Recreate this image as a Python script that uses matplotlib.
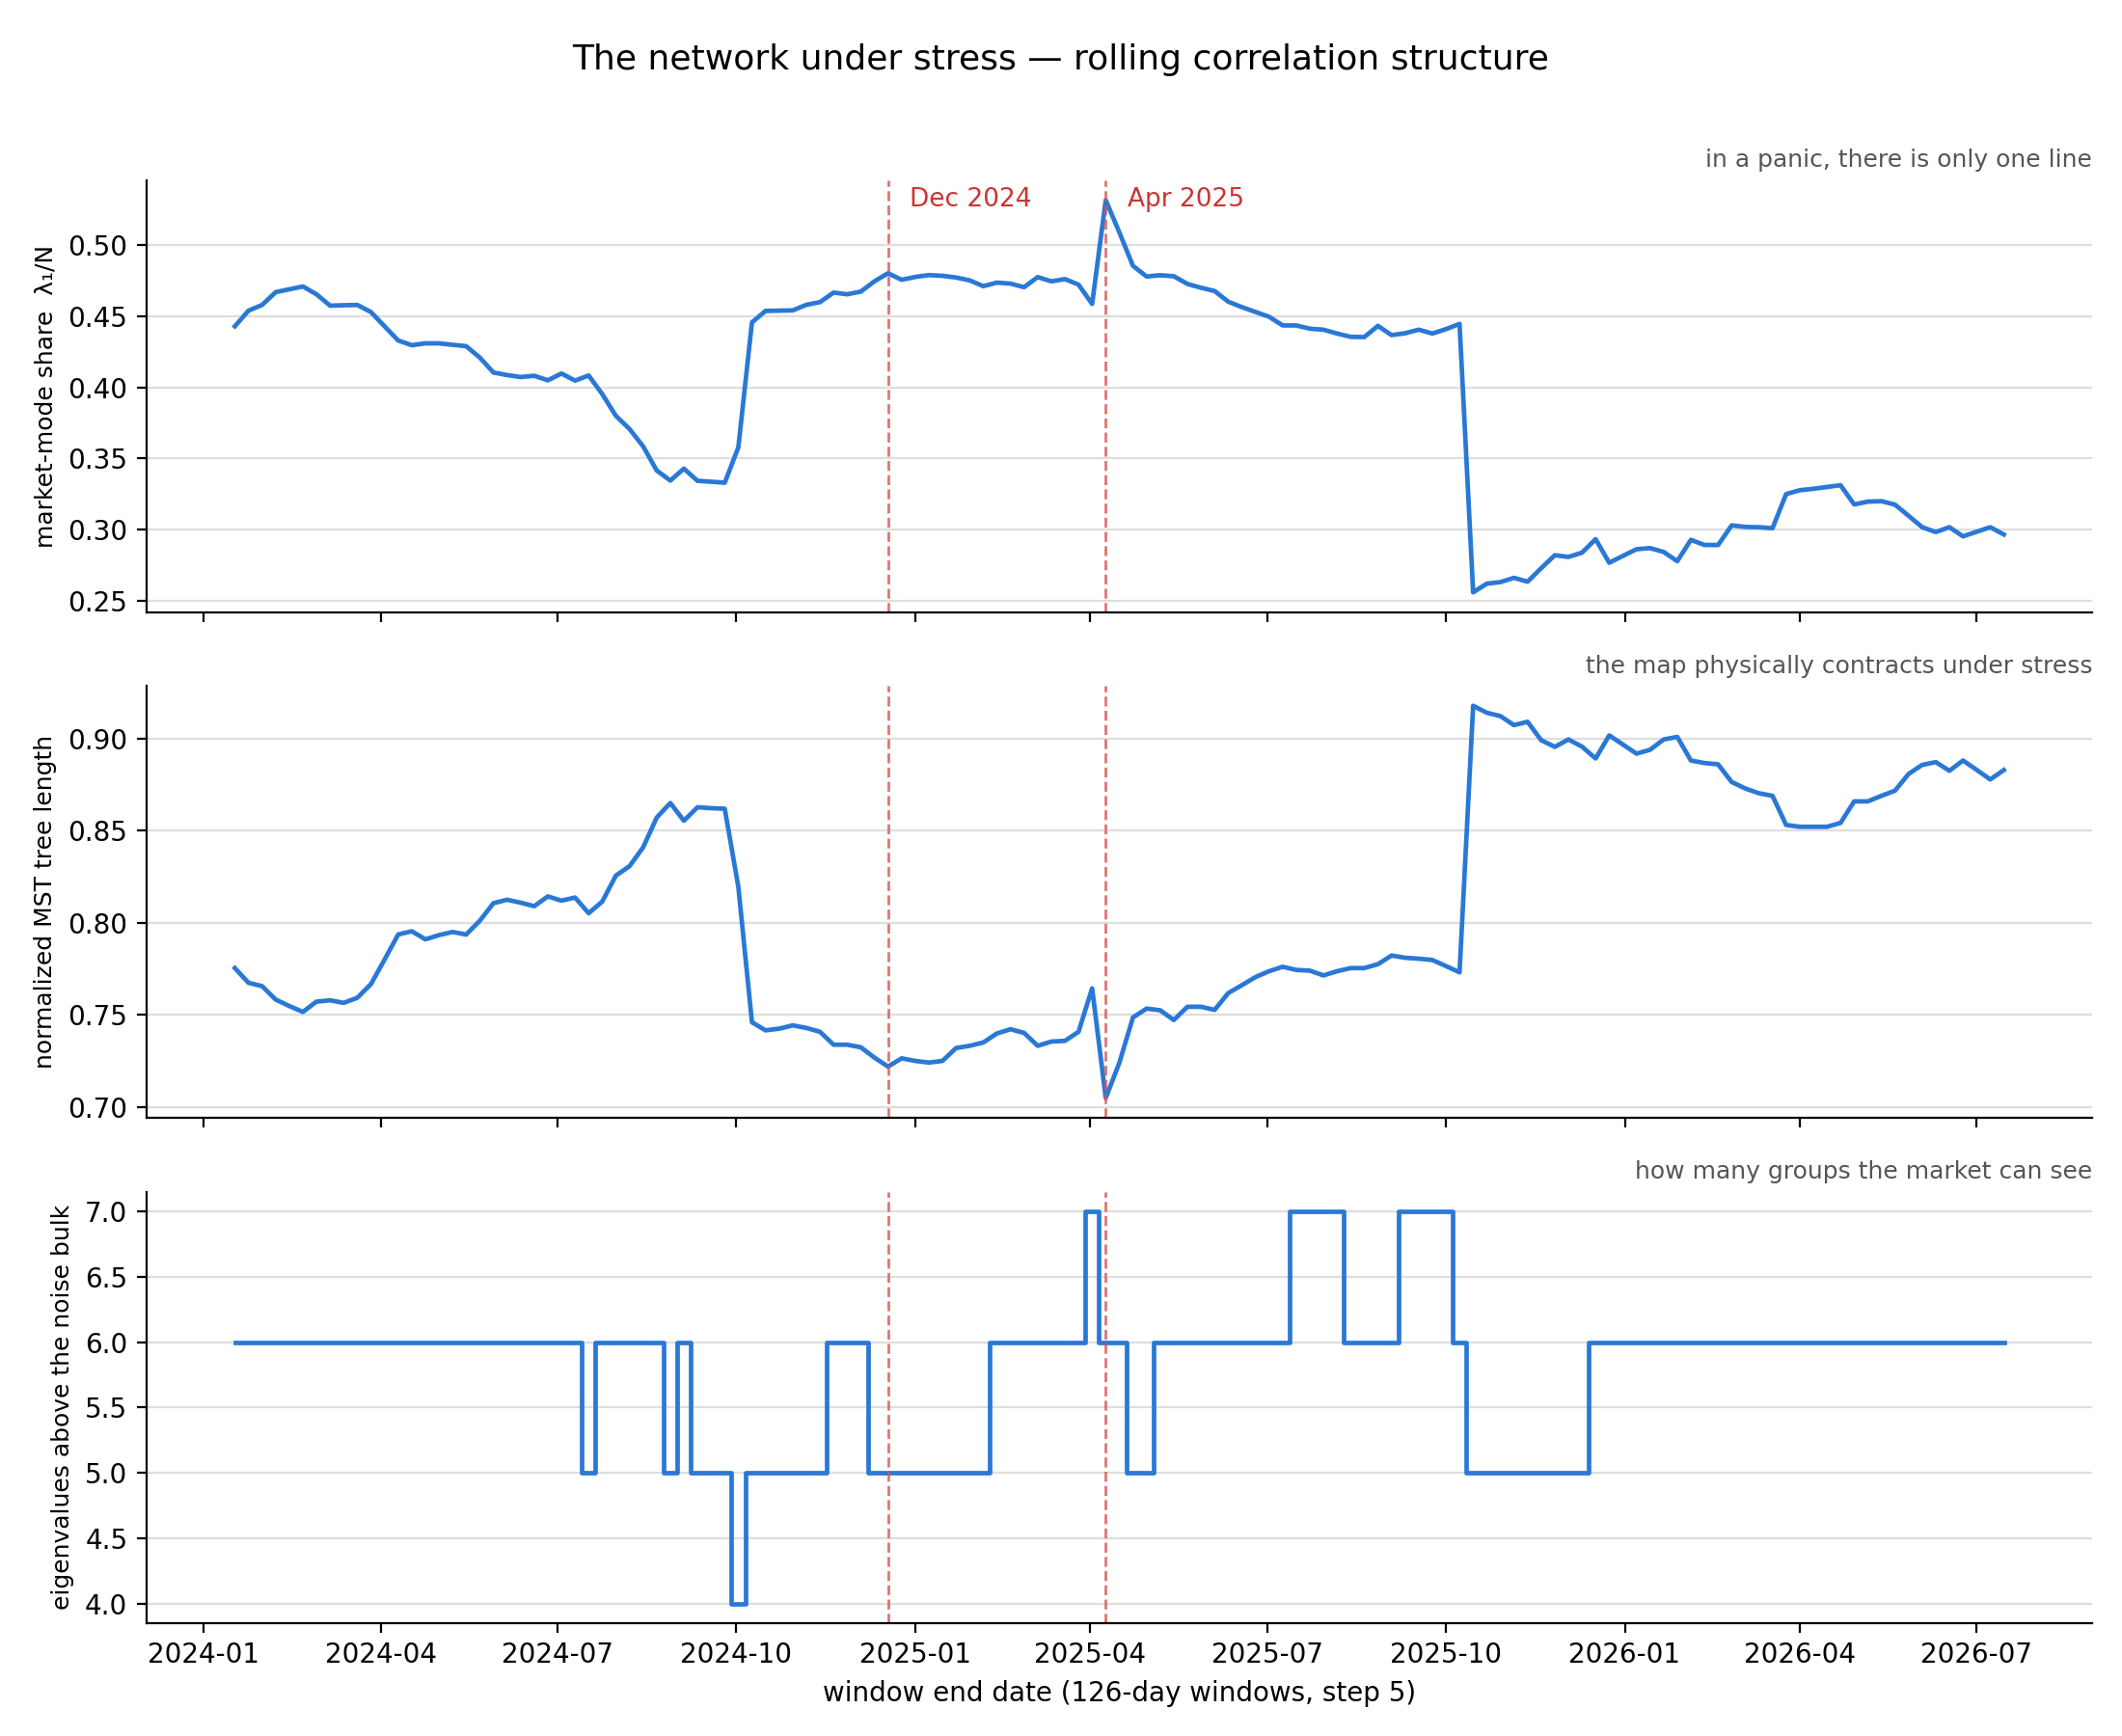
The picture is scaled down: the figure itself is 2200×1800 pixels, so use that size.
import matplotlib
matplotlib.use("Agg")
import matplotlib.pyplot as plt
import matplotlib.dates as mdates
import pandas as pd

# ---- data ----
start_date = "2024-01-17"
n_windows = 131
event_dates = ["2024-12-18", "2025-04-09"]
event_labels = ["Dec 2024", "Apr 2025"]

lam_share = [0.443, 0.454, 0.458, 0.467, 0.469, 0.471, 0.4655, 0.4575, 0.4578, 0.458,
             0.453, 0.443, 0.433, 0.4297, 0.431, 0.431, 0.430, 0.429, 0.421, 0.4105,
             0.4087, 0.4073, 0.4082, 0.405, 0.4098, 0.4048, 0.4084, 0.3953, 0.380, 0.3708,
             0.3586, 0.3416, 0.3345, 0.3429, 0.3343, 0.3337, 0.333, 0.3579, 0.4458, 0.4538,
             0.454, 0.4542, 0.4581, 0.460, 0.4667, 0.4655, 0.4674, 0.4746, 0.4803, 0.4757,
             0.4777, 0.479, 0.4785, 0.4773, 0.4753, 0.4712, 0.4737, 0.4730, 0.4705, 0.4776,
             0.4746, 0.4762, 0.4723, 0.4587, 0.5317, 0.509, 0.4855, 0.4780, 0.4789, 0.4782,
             0.4728, 0.4701, 0.4678, 0.4603, 0.4565, 0.4531, 0.4497, 0.4436, 0.4436, 0.4413,
             0.4406, 0.4379, 0.4356, 0.4354, 0.4433, 0.4368, 0.4381, 0.4406, 0.4379, 0.441,
             0.4447, 0.2559, 0.2620, 0.2631, 0.2661, 0.2634, 0.2729, 0.2820, 0.2808, 0.2838,
             0.2933, 0.2767, 0.2815, 0.2862, 0.2870, 0.2843, 0.2778, 0.2928, 0.2892, 0.2892,
             0.3030, 0.3019, 0.3017, 0.3010, 0.3250, 0.3277, 0.3287, 0.3300, 0.3312, 0.3177,
             0.3197, 0.3200, 0.3176, 0.3097, 0.3017, 0.2983, 0.3017, 0.2953, 0.2985, 0.3017,
             0.2966]

mst_len = [0.7754, 0.7674, 0.7656, 0.7583, 0.7548, 0.7516, 0.7572, 0.7579, 0.7565, 0.7593,
           0.7667, 0.780, 0.7936, 0.7954, 0.7910, 0.7933, 0.7950, 0.7936, 0.8011, 0.8106,
           0.8125, 0.8109, 0.8090, 0.8143, 0.8120, 0.8137, 0.8052, 0.8115, 0.8256, 0.8307,
           0.8409, 0.8571, 0.8650, 0.8554, 0.8627, 0.8622, 0.8619, 0.8195, 0.7460, 0.7416,
           0.7425, 0.7443, 0.7429, 0.7408, 0.7338, 0.7338, 0.7324, 0.7268, 0.7219, 0.7264,
           0.7250, 0.7241, 0.7250, 0.7320, 0.7332, 0.7350, 0.7399, 0.7422, 0.7402, 0.7332,
           0.7355, 0.7359, 0.7408, 0.7644, 0.7049, 0.7240, 0.7486, 0.7534, 0.7525, 0.7472,
           0.7544, 0.7544, 0.7527, 0.7618, 0.7661, 0.7705, 0.7737, 0.7761, 0.7744, 0.7740,
           0.7714, 0.7737, 0.7754, 0.7754, 0.7775, 0.7822, 0.7810, 0.7805, 0.7798, 0.7765,
           0.7731, 0.9178, 0.9140, 0.9122, 0.9073, 0.9091, 0.8991, 0.8955, 0.8995, 0.8956,
           0.8892, 0.9017, 0.8968, 0.8918, 0.8939, 0.8995, 0.9009, 0.8881, 0.8867, 0.8860,
           0.8764, 0.8729, 0.8703, 0.8689, 0.8531, 0.8521, 0.8521, 0.8521, 0.8542, 0.8659,
           0.8659, 0.8689, 0.8717, 0.8808, 0.8857, 0.8872, 0.8825, 0.8881, 0.8830, 0.8778,
           0.8829]

n_eig = [6, 6, 6, 6, 6, 6, 6, 6, 6, 6,
         6, 6, 6, 6, 6, 6, 6, 6, 6, 6,
         6, 6, 6, 6, 6, 6, 5, 6, 6, 6,
         6, 6, 5, 6, 5, 5, 5, 4, 5, 5,
         5, 5, 5, 5, 6, 6, 6, 5, 5, 5,
         5, 5, 5, 5, 5, 5, 6, 6, 6, 6,
         6, 6, 6, 7, 6, 6, 5, 5, 6, 6,
         6, 6, 6, 6, 6, 6, 6, 6, 7, 7,
         7, 7, 6, 6, 6, 6, 7, 7, 7, 7,
         6, 5, 5, 5, 5, 5, 5, 5, 5, 5,
         6, 6, 6, 6, 6, 6, 6, 6, 6, 6,
         6, 6, 6, 6, 6, 6, 6, 6, 6, 6,
         6, 6, 6, 6, 6, 6, 6, 6, 6, 6,
         6]

titles_right = ["in a panic, there is only one line",
                "the map physically contracts under stress",
                "how many groups the market can see"]
ylabels = ["market-mode share  λ₁/N",
           "normalized MST tree length",
           "eigenvalues above the noise bulk"]

# ---- plotting ----
dates = pd.date_range(start_date, periods=n_windows, freq="7D")
ev = pd.to_datetime(event_dates)

BLUE = "#2a78d6"
RED_LINE = "#d9534f"
RED_TEXT = "#cc3333"

fig, axes = plt.subplots(3, 1, figsize=(11, 9), dpi=200, sharex=True)
fig.subplots_adjust(left=0.069, right=0.986, top=0.896, bottom=0.065, hspace=0.172)

axes[0].plot(dates, lam_share, color=BLUE, lw=1.7)
axes[1].plot(dates, mst_len, color=BLUE, lw=1.7)
axes[2].step(dates, n_eig, where="mid", color=BLUE, lw=1.7)

for k, ax in enumerate(axes):
    ax.spines["top"].set_visible(False)
    ax.spines["right"].set_visible(False)
    ax.grid(axis="y", color="#dedede", lw=0.8)
    ax.set_axisbelow(True)
    ax.tick_params(labelsize=10)
    ax.set_ylabel(ylabels[k], fontsize=9)
    ax.set_title(titles_right[k], loc="right", fontsize=9, color="#555555", pad=5)
    for d in ev:
        ax.axvline(d, color=RED_LINE, ls="--", lw=1.0, alpha=0.8)

for d, lab in zip(ev, event_labels):
    axes[0].annotate(lab, xy=(mdates.date2num(d), 0.985),
                     xycoords=axes[0].get_xaxis_transform(),
                     xytext=(8, 0), textcoords="offset points",
                     color=RED_TEXT, fontsize=9.5, va="top", ha="left")

axes[2].xaxis.set_major_locator(mdates.MonthLocator(bymonth=[1, 4, 7, 10]))
axes[2].xaxis.set_major_formatter(mdates.DateFormatter("%Y-%m"))
axes[2].set_xlabel("window end date (126-day windows, step 5)", fontsize=10)

fig.suptitle("The network under stress — rolling correlation structure", fontsize=13, y=0.975)

fig.savefig("out.png", dpi=200)
